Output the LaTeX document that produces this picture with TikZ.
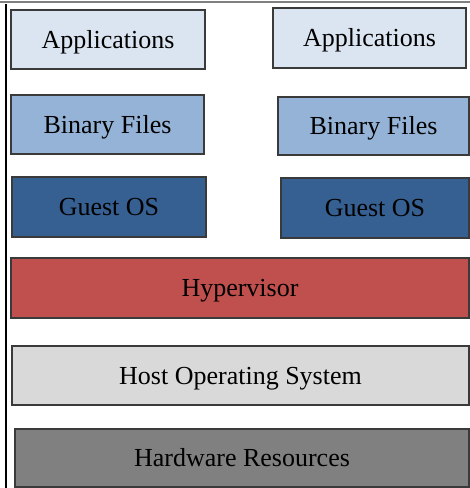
\documentclass[tikz,border=0pt]{standalone}
\usepackage{fontspec}
\setmainfont{Liberation Serif}
\definecolor{appfill}{HTML}{DBE5F1}
\definecolor{binfill}{HTML}{95B3D7}
\definecolor{guestfill}{HTML}{366092}
\definecolor{hyperfill}{HTML}{C0504D}
\definecolor{hostfill}{HTML}{D9D9D9}
\definecolor{hwfill}{HTML}{808080}
\definecolor{edgegray}{HTML}{3A3A3A}

\begin{document}
\begin{tikzpicture}[
    x=0.5pt, y=-0.5pt,
    layer/.style={rectangle, draw=edgegray, line width=0.6pt,
        inner sep=0pt, text height=0.85em, text depth=0pt,
        font=\fontsize{13}{15}\selectfont},
    app/.style={layer, fill=appfill},
    bin/.style={layer, fill=binfill},
    guest/.style={layer, fill=guestfill},
    frameline/.style={line width=0.6pt}
]
    \useasboundingbox (0,0) rectangle (470,488);
    % outer frame
    \coordinate (ftl) at (0,2);
    \coordinate (ftr) at (470,2);
    \coordinate (flt) at (6,4);
    \coordinate (flb) at (6,488);
    \draw[frameline, gray] (ftl) -- (ftr);
    \draw[frameline, black] (flt) -- (flb);
    % guest stacks
    \node[app, minimum width=97pt, minimum height=29.5pt] (appL) at (108,39.5) {Applications};
    \node[bin, minimum width=96.5pt, minimum height=29.5pt] (binL) at (107.5,124.5) {Binary Files};
    \node[guest, minimum width=97pt, minimum height=30pt] (guestL) at (109,207) {Guest OS};
    \node[app, minimum width=96.5pt, minimum height=30pt] (appR) at (369.5,38) {Applications};
    \node[bin, minimum width=95.5pt, minimum height=29pt] (binR) at (373.5,126) {Binary Files};
    \node[guest, minimum width=94pt, minimum height=30pt] (guestR) at (375,208) {Guest OS};
    % shared layers
    \node[layer, fill=hyperfill, minimum width=229pt, minimum height=30pt] (hyper) at (240,288) {Hypervisor};
    \node[layer, fill=hostfill, minimum width=228.5pt, minimum height=29.5pt] (host) at (240.5,375.5) {Host Operating System};
    \node[layer, fill=hwfill, minimum width=227pt, minimum height=29pt] (hw) at (242,458) {Hardware Resources};
\end{tikzpicture}
\end{document}
